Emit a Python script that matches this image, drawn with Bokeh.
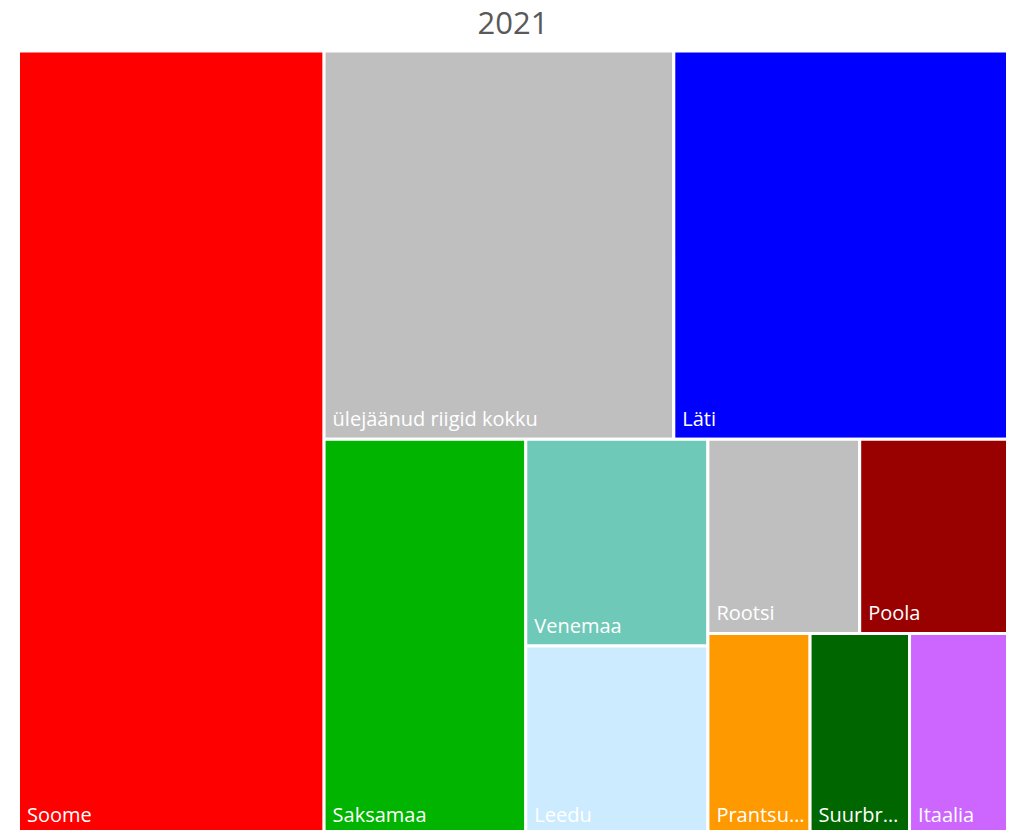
from bokeh.plotting import figure
from bokeh.models import ColumnDataSource, Range1d, Label
from bokeh.core.properties import value
from bokeh.embed import file_html
from bokeh.resources import INLINE

# ---- data ----
title_text = "2021"
categories = ["Soome", "ülejäänud riigid kokku", "Läti", "Saksamaa", "Venemaa", "Leedu",
              "Rootsi", "Poola", "Prantsusmaa", "Suurbritannia", "Itaalia"]
labels = ["Soome", "ülejäänud riigid kokku", "Läti", "Saksamaa", "Venemaa", "Leedu",
          "Rootsi", "Poola", "Prantsu…", "Suurbr…", "Itaalia"]
shares = [30.9, 17.5, 16.7, 10.3, 4.85, 4.45, 3.8, 3.7, 2.66, 2.59, 2.55]
colors = ["#FF0000", "#BFBFBF", "#0000FF", "#00B400", "#6FC9B8", "#CCEBFF",
          "#BFBFBF", "#990000", "#FF9900", "#006600", "#CC66FF"]

# treemap split structure (h = side by side, v = stacked), leaves are category indices
structure = ("h", [0, ("v", [("h", [1, 2]),
                             ("h", [3, ("v", [4, 5]),
                                    ("v", [("h", [6, 7]), ("h", [8, 9, 10])])])])])

W, H = 1009, 830
X0, X1, Y0, Y1 = 18.0, 1007.0, 50.5, 835.0
LABEL_SIZE = 20
TITLE_SIZE = 31


def total(node):
    if isinstance(node, int):
        return shares[node]
    return sum(total(c) for c in node[1])


rects = {}


def layout(node, x0, y0, x1, y1):
    if isinstance(node, int):
        rects[node] = (x0, y0, x1, y1)
        return
    kind, children = node
    t = total(node)
    pos = x0 if kind == "h" else y0
    for c in children:
        frac = total(c) / t
        if kind == "h":
            nxt = pos + frac * (x1 - x0)
            layout(c, pos, y0, nxt, y1)
        else:
            nxt = pos + frac * (y1 - y0)
            layout(c, x0, pos, x1, nxt)
        pos = nxt


layout(structure, X0, Y0, X1, Y1)

# the svg text anchor sits ~0.36 em above the glyph baseline here
shift = 0.36

idx = list(range(len(categories)))
src = ColumnDataSource(dict(
    left=[rects[i][0] for i in idx],
    top=[rects[i][1] for i in idx],
    right=[rects[i][2] for i in idx],
    bottom=[rects[i][3] for i in idx],
    color=colors,
    label=labels,
    lx=[rects[i][0] + 8.5 for i in idx],
    ly=[rects[i][3] - 13.5 - shift * LABEL_SIZE for i in idx],
))

p = figure(width=W, height=H, output_backend="svg", toolbar_location=None,
           x_range=Range1d(0, W), y_range=Range1d(H, 0), min_border=0,
           outline_line_color=None)
p.axis.visible = False
p.grid.visible = False
p.background_fill_color = "white"
p.border_fill_color = "white"

p.quad(left="left", right="right", top="top", bottom="bottom", source=src,
       fill_color="color", line_color="white", line_width=3)

p.text(x="lx", y="ly", text="label", source=src, text_color="white",
       text_font=value("Open Sans"), text_font_size=f"{LABEL_SIZE}px",
       text_baseline="alphabetic", text_align="left")

p.add_layout(Label(x=(X0 + X1) / 2, y=34 - shift * TITLE_SIZE, text=title_text,
                   text_align="center", text_baseline="alphabetic", text_font="Open Sans",
                   text_font_size=f"{TITLE_SIZE}px", text_color="#595959"))

open("out.html", "w").write(file_html(p, INLINE))
